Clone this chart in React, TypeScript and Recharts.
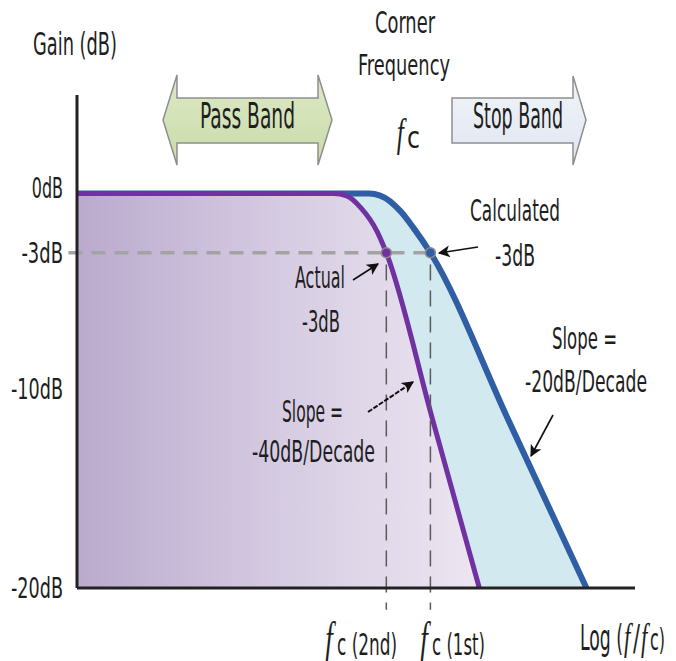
import React from "react";
import {
  Area,
  ComposedChart,
  ReferenceDot,
  ReferenceLine,
  XAxis,
  YAxis,
} from "recharts";

const PURPLE_X = [-1.9, -0.52, -0.45, -0.376, -0.285, -0.237, 0.013, 0.263];
const PURPLE_DB = [0, 0, -0.12, -0.7, -1.95, -3, -11.5, -20];
const BLUE_X = [-1.9, -0.33, -0.27, -0.16, -0.09, 0, 0.42, 0.839];
const BLUE_DB = [0, 0, -0.1, -0.9, -1.75, -3, -11.5, -20];
const Y_TICKS = [0, -3, -10, -20];
const CORNER_DB = -3;
const FC_2ND = -0.237;
const FC_1ST = 0;

const purpleData = PURPLE_X.map((x, i) => ({ x, db: PURPLE_DB[i] }));
const blueData = BLUE_X.map((x, i) => ({ x, db: BLUE_DB[i] }));

const PURPLE = "#7131a1";
const BLUE = "#2f5ea5";
const CYAN = "#d2e9f0";
const AXIS = "#222222";
const INK = "#1e1e1e";
const NARROW =
  "'Liberation Sans Narrow', 'DejaVu Sans Condensed', 'Liberation Sans', Arial, sans-serif";
const SERIF = "'Liberation Serif', 'DejaVu Serif', serif";

function Word({
  x,
  y,
  w,
  cap,
  anchor = "start",
  children,
}: {
  x: number;
  y: number;
  w: number;
  cap: number;
  anchor?: "start" | "middle" | "end";
  children: React.ReactNode;
}) {
  return (
    <text
      x={x}
      y={y}
      fontFamily={NARROW}
      fontSize={cap / 0.716}
      textLength={w}
      lengthAdjust="spacingAndGlyphs"
      textAnchor={anchor}
      fill={INK}
    >
      {children}
    </text>
  );
}

// tall, squeezed italic f used for the frequency symbol
function ItalicF({ cx, y, size }: { cx: number; y: number; size: number }) {
  return (
    <text
      transform={`translate(${cx - 0.17 * size * 0.62} ${y}) scale(0.62 1)`}
      fontFamily={SERIF}
      fontStyle="italic"
      fontSize={size}
      fill={INK}
    >
      f
    </text>
  );
}

function DbTick(props: any) {
  const { x, y, payload } = props;
  const v = payload.value as number;
  const nudge = v === 0 ? -6 : v === -10 ? -2 : 0;
  const label = `${v}dB`;
  return (
    <Word x={x} y={y + 10 + nudge} w={label.length * 10.4} cap={20} anchor="end">
      {label}
    </Word>
  );
}

function Annotations() {
  return (
    <svg
      width={676}
      height={661}
      style={{ position: "absolute", left: 0, top: 0, pointerEvents: "none" }}
    >
      <defs>
        <marker
          id="head"
          viewBox="0 0 10 10"
          refX="9"
          refY="5"
          markerWidth="16"
          markerHeight="12"
          orient="auto"
          markerUnits="userSpaceOnUse"
        >
          <path d="M0,0 L10,5 L0,10 L2.5,5 z" fill="#111" />
        </marker>
        <linearGradient id="passFill" x1="0" y1="0" x2="0" y2="1">
          <stop offset="0" stopColor="#dde9c6" />
          <stop offset="1" stopColor="#cadba9" />
        </linearGradient>
        <linearGradient id="stopFill" x1="0" y1="0" x2="0" y2="1">
          <stop offset="0" stopColor="#f1f4f9" />
          <stop offset="1" stopColor="#dfe6f1" />
        </linearGradient>
      </defs>

      <Word x={33} y={55} w={84} cap={23}>Gain (dB)</Word>

      <polygon
        points="163,120 177,75 177,98 318,98 318,75 332,120 318,165 318,143 177,143 177,165"
        fill="url(#passFill)"
        stroke="#8e8e8e"
        strokeWidth={1.5}
      />
      <Word x={200} y={128} w={95} cap={25}>Pass Band</Word>

      <polygon
        points="452,98 573,98 573,76 586,120 573,165 573,143 452,143"
        fill="url(#stopFill)"
        stroke="#8e8e8e"
        strokeWidth={1.5}
      />
      <Word x={473} y={128} w={90} cap={25}>Stop Band</Word>

      <Word x={375} y={33} w={60} cap={21}>Corner</Word>
      <Word x={358} y={75} w={92} cap={20}>Frequency</Word>
      <ItalicF cx={401} y={146} size={41} />
      <text x={407} y={148} fontFamily={NARROW} fontSize={31} textLength={13} lengthAdjust="spacingAndGlyphs" fill={INK}>
        c
      </text>

      <Word x={470} y={221} w={90} cap={22}>Calculated</Word>
      <Word x={495} y={266} w={40} cap={21}>-3dB</Word>
      <line x1={478} y1={247} x2={439} y2={253} stroke="#111" strokeWidth={1.6} markerEnd="url(#head)" />

      <Word x={295} y={288} w={50} cap={22}>Actual</Word>
      <Word x={302} y={332} w={38} cap={21}>-3dB</Word>
      <line x1={353} y1={280} x2={378} y2={264} stroke="#111" strokeWidth={1.6} markerEnd="url(#head)" />

      <Word x={282} y={422} w={61} cap={22}>Slope =</Word>
      <Word x={252} y={462} w={123} cap={22}>-40dB/Decade</Word>
      <line x1={368} y1={412} x2={413} y2={382} stroke="#111" strokeWidth={2} strokeDasharray="5 1.5" markerEnd="url(#head)" />

      <Word x={552} y={349} w={65} cap={22}>Slope =</Word>
      <Word x={525} y={392} w={122} cap={21}>-20dB/Decade</Word>
      <line x1={553} y1={415} x2={531} y2={456} stroke="#111" strokeWidth={1.6} markerEnd="url(#head)" />

      <ItalicF cx={330} y={653} size={44} />
      <Word x={337} y={655} w={60} cap={22}>c (2nd)</Word>
      <ItalicF cx={425} y={653} size={44} />
      <Word x={432} y={655} w={53} cap={22}>c (1st)</Word>

      <Word x={580} y={650} w={43} cap={26}>Log (</Word>
      <ItalicF cx={628} y={650} size={37} />
      <Word x={633} y={650} w={7} cap={26}>/</Word>
      <ItalicF cx={645} y={650} size={37} />
      <Word x={650} y={650} w={15} cap={22}>c)</Word>
    </svg>
  );
}

export default function App() {
  return (
    <div style={{ position: "absolute", left: 0, top: 0, width: 676, height: 661, background: "#fff" }}>
      <ComposedChart
        width={676}
        height={661}
        margin={{ top: 95, right: 41, bottom: 0, left: 0 }}
      >
        <defs>
          <linearGradient id="lavender" x1="0" y1="0" x2="1" y2="0">
            <stop offset="0" stopColor="#baaacd" />
            <stop offset="0.55" stopColor="#d8cee4" />
            <stop offset="1" stopColor="#ede6f1" />
          </linearGradient>
        </defs>
        <XAxis
          type="number"
          dataKey="x"
          domain={[-1.9, 1.1]}
          allowDataOverflow
          tick={false}
          tickLine={false}
          axisLine={{ stroke: AXIS, strokeWidth: 3 }}
          height={73}
        />
        <YAxis
          type="number"
          domain={[-20, 5]}
          ticks={Y_TICKS}
          interval={0}
          tick={<DbTick />}
          tickLine={false}
          tickMargin={8}
          axisLine={{ stroke: AXIS, strokeWidth: 3 }}
          width={77}
        />
        <Area
          data={blueData}
          dataKey="db"
          type="monotone"
          baseValue="dataMin"
          stroke={BLUE}
          strokeWidth={6}
          fill={CYAN}
          fillOpacity={1}
          dot={false}
          activeDot={false}
          isAnimationActive={false}
        />
        <Area
          data={purpleData}
          dataKey="db"
          type="monotone"
          baseValue="dataMin"
          stroke={PURPLE}
          strokeWidth={5}
          fill="url(#lavender)"
          fillOpacity={1}
          dot={false}
          activeDot={false}
          isAnimationActive={false}
        />
        <ReferenceLine
          segment={[
            { x: -1.946, y: CORNER_DB },
            { x: FC_1ST, y: CORNER_DB },
          ]}
          stroke="#a3a3a3"
          strokeWidth={3.5}
          strokeDasharray="14 9"
          ifOverflow="visible"
        />
        <ReferenceLine
          segment={[
            { x: FC_2ND, y: -3.6 },
            { x: FC_2ND, y: -21.1 },
          ]}
          stroke="#5a5a5a"
          strokeWidth={1.5}
          strokeDasharray="16 10"
          ifOverflow="visible"
        />
        <ReferenceLine
          segment={[
            { x: FC_1ST, y: -3.6 },
            { x: FC_1ST, y: -21.1 },
          ]}
          stroke="#5a5a5a"
          strokeWidth={1.5}
          strokeDasharray="16 10"
          ifOverflow="visible"
        />
        <ReferenceDot x={FC_2ND} y={CORNER_DB} r={5} fill={PURPLE} stroke="#8d8d8d" strokeWidth={1.5} ifOverflow="visible" />
        <ReferenceDot x={FC_1ST} y={CORNER_DB} r={5} fill={BLUE} stroke="#8d8d8d" strokeWidth={1.5} ifOverflow="visible" />
      </ComposedChart>
      <Annotations />
    </div>
  );
}
